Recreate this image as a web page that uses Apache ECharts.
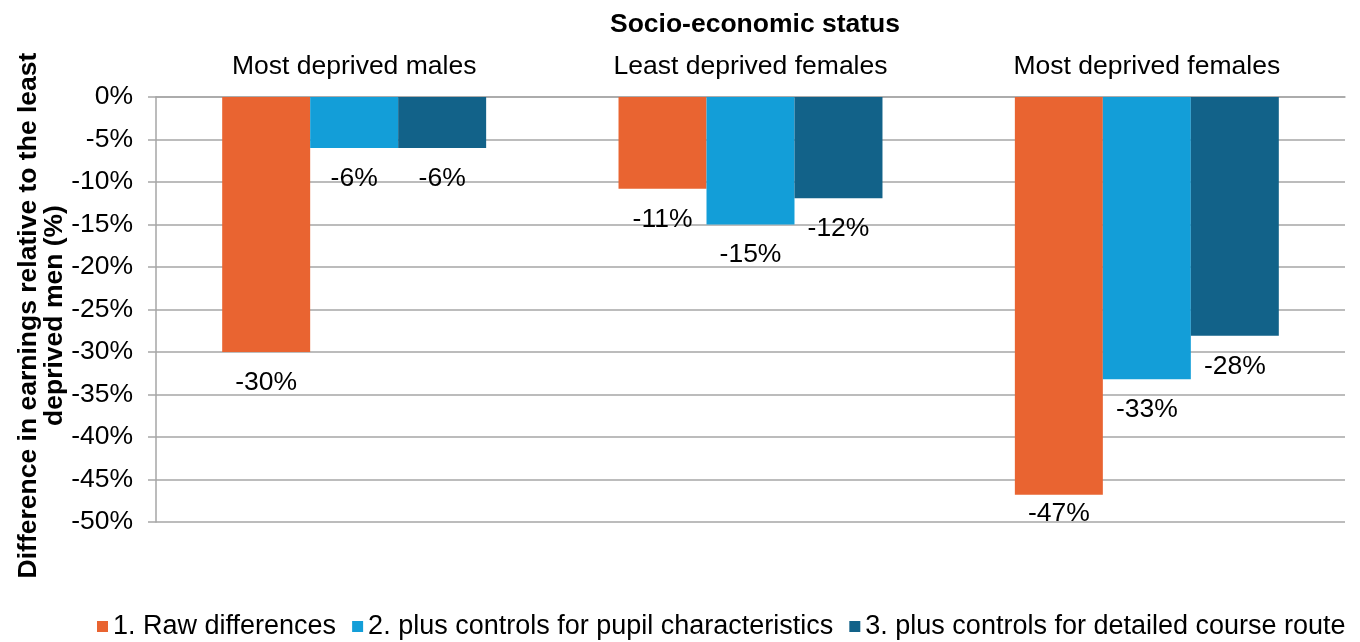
<!DOCTYPE html>
<html>
<head>
<meta charset="utf-8">
<script src="https://cdn.jsdelivr.net/npm/echarts@6/dist/echarts.min.js"></script>
<style>
html,body{margin:0;padding:0;background:#fff;}
#c{width:1360px;height:642px;}
</style>
</head>
<body>
<div id="c"></div>
<script>
const categories = ['Most deprived males', 'Least deprived females', 'Most deprived females'];
const seriesNames = ['1. Raw differences', '2. plus controls for pupil characteristics', '3. plus controls for detailed course route'];
const rawDiff = [-30, -10.8, -46.8];
const pupilCtrl = [-6, -15, -33.2];
const courseCtrl = [-6, -11.9, -28.1];
const colors = ['#E96431', '#139ED8', '#126289'];
const yTicks = { min: -50, max: 0, interval: 5 };

const FONT = 'Liberation Sans, Arial, sans-serif';
const FS = 26.5;
const chart = echarts.init(document.getElementById('c'));
// labels near the bottom of the plot are pulled up closer to the bar end (kept inside plot)
const toItems = arr => arr.map(v => (v < yTicks.min + 5 ? { value: v, label: { distance: 5 } } : v));
const mk = (name, data, color) => ({
  name, type: 'bar', data: toItems(data),
  barGap: '0%', barCategoryGap: '33.4%',
  itemStyle: { color },
  label: {
    show: true, position: 'bottom', distance: 17,
    color: '#000', fontSize: FS, fontFamily: FONT,
    formatter: p => Math.round(p.value) + '%'
  }
});
chart.setOption({
  animation: false,
  textStyle: { fontFamily: FONT },
  title: {
    text: 'Socio-economic status',
    left: 750, top: 6, textAlign: 'center',
    textStyle: { fontSize: FS, fontWeight: 'bold', color: '#000', fontFamily: FONT }
  },
  legend: {
    top: 608, left: 92, icon: 'rect', itemWidth: 11, itemHeight: 11, itemGap: 16,
    textStyle: { fontSize: 27, color: '#000', fontFamily: FONT },
    data: seriesNames
  },
  grid: { left: 156, right: 15, top: 97, bottom: 120, containLabel: false },
  xAxis: {
    type: 'category', data: categories, position: 'top',
    axisLine: { show: true, lineStyle: { color: '#A6A6A6', width: 1.5 } },
    axisTick: { show: false },
    axisLabel: { color: '#000', fontSize: FS, margin: 17, fontFamily: FONT }
  },
  yAxis: {
    type: 'value', min: yTicks.min, max: yTicks.max, interval: yTicks.interval,
    name: 'Difference in earnings relative to the least\ndeprived men (%)',
    nameLocation: 'middle', nameGap: 88, nameRotate: 90, nameMoveOverlap: false,
    nameTextStyle: { fontSize: FS, fontWeight: 'bold', color: '#000', lineHeight: 26, fontFamily: FONT, padding: [0, 12, 0, 0] },
    axisLine: { show: true, lineStyle: { color: '#A6A6A6', width: 1.5 } },
    axisTick: { show: true, length: 8, lineStyle: { color: '#A6A6A6', width: 1.5 } },
    splitLine: { show: true, lineStyle: { color: '#A6A6A6', width: 1.5 } },
    axisLabel: { color: '#000', fontSize: FS, margin: 23, fontFamily: FONT, formatter: v => v + '%' }
  },
  series: [
    mk(seriesNames[0], rawDiff, colors[0]),
    mk(seriesNames[1], pupilCtrl, colors[1]),
    mk(seriesNames[2], courseCtrl, colors[2])
  ]
});
</script>
</body>
</html>
